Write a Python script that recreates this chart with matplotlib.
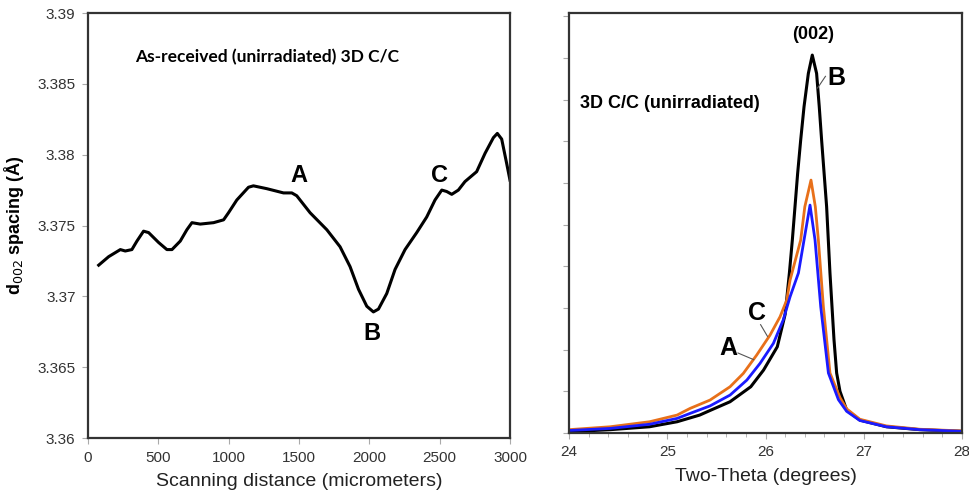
import numpy as np
import matplotlib.pyplot as plt

# left panel: d002 spacing vs scanning distance
dist = [76, 147, 230, 265, 312, 348, 395, 431, 502, 561, 597, 656, 703, 739, 798,
        893, 964, 999, 1058, 1141, 1176, 1271, 1390, 1449, 1484, 1579, 1698, 1792,
        1863, 1923, 1982, 2029, 2065, 2124, 2183, 2254, 2337, 2408, 2467, 2515,
        2550, 2586, 2633, 2680, 2763, 2823, 2882, 2910, 2941, 2976, 3000]
d002 = [3.3722, 3.3728, 3.3733, 3.3732, 3.3733, 3.3739, 3.3746, 3.3745, 3.3738,
        3.3733, 3.3733, 3.3739, 3.3747, 3.3752, 3.3751, 3.3752, 3.3754, 3.3759,
        3.3768, 3.3777, 3.3778, 3.3776, 3.3773, 3.3773, 3.3771, 3.3759, 3.3747,
        3.3735, 3.3721, 3.3705, 3.3693, 3.3689, 3.3691, 3.3702, 3.3719, 3.3733,
        3.3745, 3.3756, 3.3768, 3.3775, 3.3774, 3.3772, 3.3775, 3.3781, 3.3788,
        3.3801, 3.3812, 3.3815, 3.3811, 3.3794, 3.3782]

# right panel: XRD (002) profiles at points B, C, A
tt_B = [24.0, 24.42, 24.82, 25.10, 25.33, 25.435, 25.639, 25.85, 25.98, 26.12,
        26.20, 26.243, 26.273, 26.30, 26.327, 26.358, 26.392, 26.436, 26.476,
        26.52, 26.547, 26.571, 26.622, 26.656, 26.697, 26.724, 26.758, 26.826,
        26.96, 27.23, 27.57, 28.0]
int_B = [0.03, 0.08, 0.15, 0.27, 0.43, 0.54, 0.75, 1.11, 1.51, 2.07, 2.85, 3.84,
         4.63, 5.43, 6.23, 7.03, 7.83, 8.63, 9.07, 8.63, 7.83, 7.03, 5.43, 3.84,
         2.24, 1.44, 1.00, 0.55, 0.31, 0.15, 0.08, 0.04]
tt_C = [24.0, 24.42, 24.82, 25.10, 25.232, 25.435, 25.639, 25.774, 25.91, 26.046,
        26.148, 26.216, 26.25, 26.358, 26.40, 26.463, 26.507, 26.538, 26.589,
        26.656, 26.758, 26.826, 26.96, 27.23, 27.57, 28.0]
int_C = [0.08, 0.15, 0.27, 0.43, 0.59, 0.79, 1.11, 1.43, 1.87, 2.35, 2.79, 3.19,
         3.67, 4.63, 5.43, 6.07, 5.43, 4.63, 3.03, 1.44, 0.85, 0.58, 0.33, 0.17,
         0.09, 0.05]
tt_A = [24.0, 24.42, 24.82, 25.10, 25.232, 25.435, 25.639, 25.81, 25.944, 26.08,
        26.18, 26.25, 26.335, 26.392, 26.453, 26.504, 26.562, 26.64, 26.742,
        26.826, 26.96, 27.23, 27.57, 28.0]
int_A = [0.06, 0.11, 0.21, 0.35, 0.47, 0.65, 0.91, 1.27, 1.67, 2.15, 2.71, 3.27,
         3.84, 4.63, 5.47, 4.63, 3.03, 1.44, 0.80, 0.52, 0.30, 0.15, 0.08, 0.04]

plt.rcParams['font.family'] = ['Liberation Sans', 'DejaVu Sans']

fig = plt.figure(figsize=(9.69, 5), dpi=100)
ax1 = fig.add_axes([0.0908, 0.124, 0.4355, 0.85])
ax2 = fig.add_axes([0.5872, 0.134, 0.4056, 0.84])

for ax in (ax1, ax2):
    for s in ax.spines.values():
        s.set_color('#333333')
        s.set_linewidth(1.6)
    ax.tick_params(direction='out', length=4, width=0.8, color='#aaaaaa',
                   labelsize=11, labelcolor='#333333', pad=5)

# left
ax1.plot(dist, d002, color='black', lw=2.2)
ax1.set_xlim(0, 3000)
ax1.set_ylim(3.36, 3.39)
ax1.set_xticks(np.arange(0, 3001, 500))
ax1.set_yticks(np.arange(3.36, 3.3901, 0.005))
ax1.set_yticklabels(['3.36', '3.365', '3.37', '3.375', '3.38', '3.385', '3.39'])
ax1.set_xlabel('Scanning distance (micrometers)', fontsize=14, color='#222222',
               labelpad=6)
ax1.set_ylabel('d$_{002}$ spacing (Å)', fontsize=13, fontweight='bold')
ax1.yaxis.set_label_coords(-0.148, 0.5)
ax1.text(334, 3.3869, 'As-received (unirradiated) 3D C/C', family='Lato',
         fontweight='bold', fontsize=12.5, va='center')
ax1.text(1497, 3.3785, 'A', fontsize=17, fontweight='bold', ha='center', va='center')
ax1.text(2017, 3.3674, 'B', fontsize=17, fontweight='bold', ha='center', va='center')
ax1.text(2502, 3.3785, 'C', fontsize=17, fontweight='bold', ha='center', va='center')

# right
ax2.plot(tt_B, int_B, color='black', lw=2.2)
ax2.plot(tt_C, int_C, color='#e8701a', lw=2.0)
ax2.plot(tt_A, int_A, color='#1a1aff', lw=2.0)
ax2.set_xlim(24, 28)
ax2.set_ylim(0, 10.08)
ax2.set_xticks(np.arange(24, 28.01, 1))
ax2.set_xticks(np.arange(24, 28.01, 0.2), minor=True)
ax2.tick_params(which='minor', direction='out', length=3, color='#aaaaaa')
ax2.set_yticks(np.arange(0, 10.01, 1))
ax2.set_yticklabels([])
ax2.set_xlabel('Two-Theta (degrees)', fontsize=14, color='#222222', labelpad=6)
ax2.text(24.11, 7.92, '3D C/C (unirradiated)', fontsize=13, fontweight='bold',
         va='center')
ax2.text(26.48, 9.56, '(002)', fontsize=13, fontweight='bold', ha='center',
         va='center')
ax2.text(26.72, 8.52, 'B', fontsize=18, fontweight='bold', ha='center', va='center')
ax2.plot([26.53, 26.61], [8.28, 8.56], color='#555555', lw=0.8)
ax2.text(25.91, 2.88, 'C', fontsize=18, fontweight='bold', ha='center', va='center')
ax2.plot([25.95, 26.02], [2.6, 2.32], color='#555555', lw=0.8)
ax2.text(25.62, 2.04, 'A', fontsize=18, fontweight='bold', ha='center', va='center')
ax2.plot([25.72, 25.88], [1.92, 1.76], color='#555555', lw=0.8)

fig.savefig('out.png', dpi=100)
